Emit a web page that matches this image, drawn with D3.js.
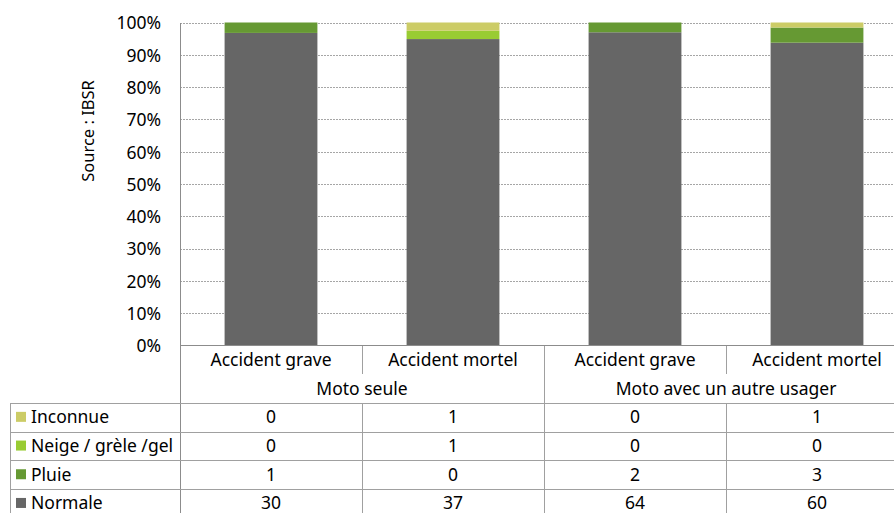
<!DOCTYPE html>
<html>
<head>
<meta charset="utf-8">
<script src="https://cdn.jsdelivr.net/npm/d3@7"></script>
<style>
  html, body { margin: 0; padding: 0; background: #fff; }
  svg text { font-family: "Noto Sans", "DejaVu Sans", sans-serif; font-size: 17.5px; fill: #000; }
</style>
</head>
<body>
<svg id="chart" width="894" height="513"></svg>
<script>
// Weather conditions for motorcycle accidents (counts), stacked as shares of 100%
const groups = ["Moto seule", "Moto avec un autre usager"];
const categories = ["Accident grave", "Accident mortel", "Accident grave", "Accident mortel"];
const categoryGroup = [0, 0, 1, 1];
const seriesNames = ["Normale", "Pluie", "Neige / grèle /gel", "Inconnue"];
const seriesColors = ["#666666", "#669933", "#99cc33", "#cccc66"];
const normale = [30, 37, 64, 60];
const pluie = [1, 0, 2, 3];
const neige = [0, 1, 0, 0];
const inconnue = [0, 1, 0, 1];
const yTicks = [0, 0.1, 0.2, 0.3, 0.4, 0.5, 0.6, 0.7, 0.8, 0.9, 1];

const seriesValues = [normale, pluie, neige, inconnue];
const rows = categories.map((c, i) => {
  const r = { key: i };
  seriesNames.forEach((s, k) => r[s] = seriesValues[k][i]);
  return r;
});

const svg = d3.select("#chart");
const plotLeft = 180, plotRight = 908, plotTop = 22.5, plotBottom = 345.5;
const tableLeft = 10;

const x = d3.scaleBand().domain(d3.range(categories.length)).range([plotLeft, plotRight]).paddingInner(0.49).paddingOuter(0.245);
const xCell = d3.scaleBand().domain(d3.range(categories.length)).range([plotLeft, plotRight]);
const y = d3.scaleLinear().domain([0, 1]).range([plotBottom, plotTop]);

// gridlines
svg.append("g").selectAll("line").data(yTicks.filter(t => t > 0)).join("line")
  .attr("x1", plotLeft).attr("x2", plotRight)
  .attr("y1", d => Math.round(y(d)) + 0.5).attr("y2", d => Math.round(y(d)) + 0.5)
  .attr("stroke", "#a6a6a6").attr("stroke-width", 1).attr("stroke-dasharray", "2,1");

// y axis labels
const yAxis = d3.axisLeft(y).tickValues(yTicks).tickFormat(d3.format(".0%")).tickSize(0).tickPadding(19);
const ga = svg.append("g").attr("transform", `translate(${plotLeft},0)`).call(yAxis);
ga.select(".domain").remove();
ga.selectAll("text").attr("font-size", null).attr("font-family", null).attr("dy", "0.36em");

// stacked bars
const stack = d3.stack().keys(seriesNames).offset(d3.stackOffsetExpand);
const stacked = stack(rows);
svg.append("g").selectAll("g").data(stacked).join("g")
  .attr("fill", (d, i) => seriesColors[i])
  .selectAll("rect").data(d => d).join("rect")
  .attr("x", (d, i) => x(i))
  .attr("width", x.bandwidth())
  .attr("y", d => y(d[1]))
  .attr("height", d => y(d[0]) - y(d[1]));

// y title
svg.append("text")
  .attr("transform", "translate(94,131) rotate(-90)")
  .attr("text-anchor", "middle")
  .style("font-size", "16.5px")
  .text("Source : IBSR");

// table geometry
const lineColor = "#a0a0a0";
const catRowBottom = 374, groupRowBottom = 403;
const rowH = 28.7;
const tableBottom = 530;
const lines = svg.append("g").attr("stroke", lineColor).attr("stroke-width", 1).attr("shape-rendering", "crispEdges");

// left axis line continuing through the table
lines.append("line").attr("x1", plotLeft + 0.5).attr("x2", plotLeft + 0.5).attr("y1", plotTop).attr("y2", tableBottom).attr("stroke", "#8c8c8c");
// baseline
lines.append("line").attr("x1", plotLeft).attr("x2", plotRight).attr("y1", plotBottom).attr("y2", plotBottom).attr("stroke", "#8c8c8c");

// category separators
d3.range(1, categories.length).forEach(i => {
  const xx = Math.round(xCell(i)) + 0.5;
  const sameGroup = categoryGroup[i] === categoryGroup[i - 1];
  lines.append("line").attr("x1", xx).attr("x2", xx)
    .attr("y1", plotBottom).attr("y2", sameGroup ? catRowBottom : tableBottom);
  if (sameGroup) {
    lines.append("line").attr("x1", xx).attr("x2", xx).attr("y1", groupRowBottom).attr("y2", tableBottom);
  }
});

// horizontal table lines
const rowTops = d3.range(5).map(k => groupRowBottom + k * rowH);
rowTops.forEach(yy => {
  lines.append("line").attr("x1", tableLeft).attr("x2", plotRight)
    .attr("y1", Math.round(yy) + 0.5).attr("y2", Math.round(yy) + 0.5);
});
lines.append("line").attr("x1", tableLeft + 0.5).attr("x2", tableLeft + 0.5).attr("y1", groupRowBottom).attr("y2", tableBottom);

// category labels
svg.append("g").selectAll("text").data(categories).join("text")
  .attr("x", (d, i) => xCell(i) + xCell.bandwidth() / 2)
  .attr("y", (plotBottom + catRowBottom) / 2)
  .attr("dy", "0.36em").attr("text-anchor", "middle").text(d => d);

// group labels
svg.append("g").selectAll("text").data(groups).join("text")
  .attr("x", (d, gi) => {
    const idx = categoryGroup.map((g, i) => g === gi ? i : -1).filter(i => i >= 0);
    return (xCell(idx[0]) + xCell(idx[idx.length - 1]) + xCell.bandwidth()) / 2;
  })
  .attr("y", (catRowBottom + groupRowBottom) / 2)
  .attr("dy", "0.36em").attr("text-anchor", "middle").text(d => d);

// data rows: top row is the last series
const tableSeries = seriesNames.map((s, k) => ({ name: s, color: seriesColors[k], values: seriesValues[k] })).reverse();
const rowG = svg.append("g").selectAll("g").data(tableSeries).join("g")
  .attr("transform", (d, k) => `translate(0,${rowTops[k] + rowH / 2 - 0.5})`);
rowG.append("rect").attr("x", 16).attr("y", -5).attr("width", 10).attr("height", 10).attr("fill", d => d.color);
rowG.append("text").attr("x", 31).attr("dy", "0.36em").text(d => d.name);
rowG.selectAll("text.v").data(d => d.values).join("text").attr("class", "v")
  .attr("x", (d, i) => xCell(i) + xCell.bandwidth() / 2)
  .attr("dy", "0.36em").attr("text-anchor", "middle").text(d => d);
</script>
</body>
</html>
